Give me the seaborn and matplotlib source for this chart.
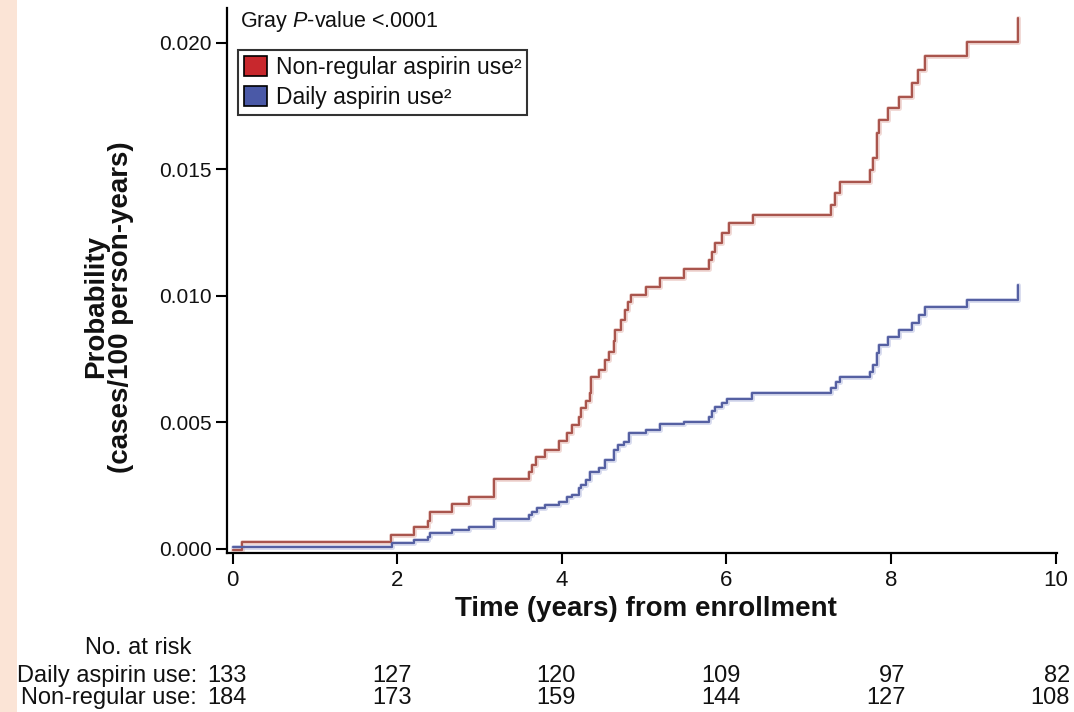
import numpy as np
import pandas as pd
import matplotlib
matplotlib.use("Agg")
import matplotlib.pyplot as plt
import matplotlib.transforms as mtransforms
from matplotlib.patches import Patch, Rectangle
import seaborn as sns

# ---------------- data ----------------
red_time = [0.00, 0.12, 1.93, 2.20, 2.37, 2.40, 2.67, 2.87, 3.18, 3.60, 3.64, 3.69, 3.80,
            3.97, 4.06, 4.13, 4.21, 4.24, 4.30, 4.34, 4.35, 4.45, 4.52, 4.57, 4.63, 4.65,
            4.72, 4.77, 4.80, 4.84, 5.03, 5.20, 5.48, 5.79, 5.82, 5.86, 5.95, 6.03, 6.33,
            7.27, 7.32, 7.38, 7.74, 7.78, 7.83, 7.85, 7.97, 8.10, 8.26, 8.33, 8.42, 8.92, 9.54]
red_prob = [-0.00005, 0.00028, 0.00057, 0.00087, 0.00112, 0.00148, 0.00178, 0.00207, 0.00275,
            0.00305, 0.00332, 0.00362, 0.00392, 0.00425, 0.00457, 0.00490, 0.00523, 0.00556,
            0.00585, 0.00618, 0.00680, 0.00707, 0.00747, 0.00780, 0.00820, 0.00866, 0.00905,
            0.00945, 0.00977, 0.01002, 0.01037, 0.01070, 0.01105, 0.01142, 0.01175, 0.01208,
            0.01248, 0.01287, 0.01320, 0.01360, 0.01408, 0.01452, 0.01498, 0.01544, 0.01643,
            0.01696, 0.01742, 0.01788, 0.01840, 0.01893, 0.01949, 0.02005, 0.02098]

blue_time = [0.00, 1.94, 2.20, 2.37, 2.40, 2.67, 2.87, 3.18, 3.60, 3.64, 3.70, 3.80, 3.97,
             4.06, 4.13, 4.21, 4.24, 4.30, 4.34, 4.45, 4.52, 4.64, 4.68, 4.76, 4.82, 5.03,
             5.20, 5.48, 5.79, 5.82, 5.86, 5.95, 6.01, 6.31, 7.27, 7.33, 7.38, 7.74, 7.78,
             7.83, 7.85, 7.96, 8.10, 8.26, 8.34, 8.42, 8.92, 9.54]
blue_prob = [0.00008, 0.00022, 0.00036, 0.00049, 0.00062, 0.00075, 0.00088, 0.00117, 0.00134,
             0.00147, 0.00163, 0.00174, 0.00187, 0.00204, 0.00213, 0.00240, 0.00253, 0.00273,
             0.00305, 0.00319, 0.00350, 0.00390, 0.00411, 0.00424, 0.00457, 0.00470, 0.00492,
             0.00502, 0.00523, 0.00547, 0.00562, 0.00578, 0.00593, 0.00615, 0.00635, 0.00661,
             0.00680, 0.00701, 0.00727, 0.00775, 0.00806, 0.00839, 0.00866, 0.00892, 0.00925,
             0.00955, 0.00984, 0.01043]

group_names = ["Non-regular aspirin use\u00b2", "Daily aspirin use\u00b2"]
x_ticks = [0, 2, 4, 6, 8, 10]
y_ticks = [0.000, 0.005, 0.010, 0.015, 0.020]
risk_labels = ["Daily aspirin use:", "Non-regular use:"]
risk_daily = [133, 127, 120, 109, 97, 82]
risk_nonreg = [184, 173, 159, 144, 127, 108]

df = pd.concat([
    pd.DataFrame({"time": red_time, "prob": red_prob, "group": group_names[0]}),
    pd.DataFrame({"time": blue_time, "prob": blue_prob, "group": group_names[1]}),
], ignore_index=True)

# ---------------- style ----------------
sns.set_theme(style="white")
plt.rcParams["font.family"] = ["Liberation Sans", "DejaVu Sans"]
plt.rcParams["mathtext.fontset"] = "custom"
plt.rcParams["mathtext.rm"] = "Liberation Sans"
plt.rcParams["mathtext.it"] = "Liberation Sans:italic"

W, H = 1074, 712
fig = plt.figure(figsize=(W / 100, H / 100), dpi=100)
fig.patch.set_facecolor("white")
fig.patches.append(Rectangle((0, 0), 17 / W, 1, transform=fig.transFigure,
                             facecolor="#FBE4D6", edgecolor="none", zorder=0))

ax_l, ax_r, ax_t, ax_b = 227, 1057, 8, 553
ax = fig.add_axes([ax_l / W, 1 - ax_b / H, (ax_r - ax_l) / W, (ax_b - ax_t) / H])
ax.set_facecolor("white")

line_cols = {group_names[0]: "#A9554D", group_names[1]: "#5560A2"}
halo_cols = {group_names[0]: "#E6BDB7", group_names[1]: "#BCC1E3"}

sns.lineplot(data=df, x="time", y="prob", hue="group", palette=halo_cols,
             drawstyle="steps-post", estimator=None, legend=False, ax=ax,
             linewidth=3.6, alpha=0.55)
sns.lineplot(data=df, x="time", y="prob", hue="group", palette=line_cols,
             drawstyle="steps-post", estimator=None, legend=False, ax=ax,
             linewidth=1.6)

ax.set_xlim(-0.067, 10.018)
ax.set_ylim(-0.00016, 0.02138)
ax.set_xticks(x_ticks)
ax.set_xticklabels([str(t) for t in x_ticks])
ax.set_yticks(y_ticks)
ax.set_yticklabels([f"{v:.3f}" for v in y_ticks])
ax.set_xlabel("")
ax.set_ylabel("")

for s in ["top", "right"]:
    ax.spines[s].set_visible(False)
for s in ["left", "bottom"]:
    ax.spines[s].set_color("black")
    ax.spines[s].set_linewidth(1.6)
ax.tick_params(axis="both", direction="out", length=8, width=1.5, color="black",
               labelsize=15, labelcolor="#111111", left=True, bottom=True)
ax.tick_params(axis="x", pad=4, labelsize=16)
ax.tick_params(axis="y", pad=3)

# axis titles
fig.text(646 / W, 1 - 609 / H, "Time (years) from enrollment", fontsize=20,
         fontweight="bold", ha="center", va="center", color="#111111")
fig.text(109 / W, 1 - 307 / H, "Probability\n(cases/100 person-years)", fontsize=20,
         fontweight="bold", ha="center", va="center", rotation=90,
         multialignment="center", linespacing=0.95, color="#111111")

# p-value text
fig.text(240 / W, 1 - 22 / H, "Gray $\\mathit{P}$-value <.0001", fontsize=15.5,
         va="center", ha="left", color="#111111")

handles = [Patch(facecolor="#C8282D", edgecolor="black", linewidth=1.2),
           Patch(facecolor="#4A59A7", edgecolor="black", linewidth=1.2)]
leg = ax.legend(handles, group_names, loc="upper left",
                bbox_to_anchor=(238 / W, 1 - 50 / H), bbox_transform=fig.transFigure,
                borderaxespad=0, fontsize=16.5, frameon=True, fancybox=False,
                handlelength=1.0, handleheight=1.0, handletextpad=0.4,
                borderpad=0.25, labelspacing=0.3)
leg.get_frame().set_edgecolor("black")
leg.get_frame().set_linewidth(1.5)
for t in leg.get_texts():
    t.set_color("#111111")

# risk table
trans = mtransforms.blended_transform_factory(ax.transData, fig.transFigure)
fig.text(191 / W, 1 - 648 / H, "No. at risk", fontsize=17, ha="right", va="center",
         color="#111111")
row_y = [676, 698]
for lab, vals, yy in zip(risk_labels, [risk_daily, risk_nonreg], row_y):
    fig.text(197 / W, 1 - yy / H, lab, fontsize=17, ha="right", va="center", color="#111111")
    for xt, v in zip(x_ticks, vals):
        ax.text(xt + 0.175, 1 - yy / H, str(v), transform=trans, fontsize=17,
                ha="right", va="center", color="#111111", clip_on=False)

fig.savefig("out.png", dpi=100, facecolor="white")
